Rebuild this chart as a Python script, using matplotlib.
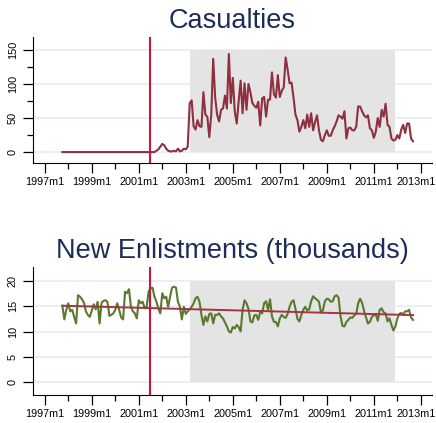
import numpy as np
import matplotlib
matplotlib.use('Agg')
import matplotlib.pyplot as plt
from matplotlib.transforms import ScaledTranslation

plt.rcParams['font.family'] = 'Liberation Sans'

# months counted from 1997m1; data runs 1997m10 .. 2012m9
first_month = 9
casualties = [
    0, 0, 0,                                                  # 1997 Oct-Dec
    0, 0, 0, 0, 0, 0, 0, 0, 0, 0, 0, 0,                      # 1998
    0, 0, 0, 0, 0, 0, 0, 0, 0, 0, 0, 0,                      # 1999
    0, 0, 0, 0, 0, 0, 0, 0, 0, 0, 0, 0,                      # 2000
    0, 0, 0, 0, 0, 0, 0, 0, 0, 2, 4, 8,                      # 2001
    12, 10, 5, 2, 1, 1, 2, 1, 5, 1, 2, 5,                    # 2002
    4, 8, 72, 76, 38, 33, 47, 38, 37, 88, 55, 52,            # 2003
    22, 55, 137, 80, 55, 45, 62, 64, 83, 64, 144, 72,        # 2004
    109, 60, 42, 75, 105, 57, 101, 62, 100, 88, 72, 68,      # 2005
    65, 74, 39, 79, 81, 52, 77, 77, 117, 85, 80, 113,        # 2006
    81, 90, 95, 139, 121, 101, 102, 80, 55, 47, 30, 37,      # 2007
    47, 35, 55, 37, 57, 32, 44, 54, 32, 18, 16, 25,          # 2008
    32, 24, 24, 32, 38, 45, 54, 52, 49, 60, 20, 35,          # 2009
    36, 32, 32, 37, 67, 67, 60, 54, 51, 54, 35, 32,          # 2010
    21, 30, 50, 37, 62, 52, 71, 40, 37, 20, 17, 18,          # 2011
    25, 20, 33, 40, 28, 42, 42, 20, 16,                      # 2012 Jan-Sep
]
enlistments = [
    15.1, 12.4, 14.3,
    15.6, 14.0, 14.3, 12.9, 11.6, 17.2, 16.9, 16.4, 15.7, 14.0, 13.3, 12.9,
    14.1, 15.4, 14.4, 15.9, 11.6, 15.7, 16.1, 16.2, 15.9, 13.1, 13.3, 13.6,
    14.3, 15.6, 14.3, 12.8, 12.4, 17.9, 17.6, 18.4, 14.9, 14.0, 13.6, 12.6,
    16.2, 15.6, 15.9, 14.6, 14.9, 17.9, 18.5, 18.7, 16.9, 15.9, 14.6, 13.6,
    17.6, 16.6, 16.9, 14.9, 16.9, 18.7, 18.9, 18.7, 15.9, 14.9, 12.4, 14.9,
    13.5, 14.0, 14.4, 14.9, 15.6, 16.6, 16.9, 15.9, 13.3, 11.3, 13.0, 12.0,
    13.5, 13.6, 11.6, 13.3, 13.3, 13.6, 13.0, 12.6, 11.8, 11.0, 10.0, 9.8,
    10.9, 10.6, 11.3, 10.9, 10.0, 14.3, 16.2, 15.6, 14.5, 12.0, 11.8, 13.2,
    13.3, 12.3, 13.9, 13.6, 15.6, 16.0, 14.3, 16.4, 13.0, 11.9, 11.9, 11.0,
    12.6, 13.3, 12.9, 12.7, 13.5, 14.9, 15.9, 16.2, 14.5, 12.5, 12.0, 13.3,
    14.3, 14.9, 14.2, 14.4, 16.0, 17.0, 16.6, 16.3, 15.9, 13.8, 14.2, 16.0,
    16.5, 16.4, 15.9, 16.0, 17.0, 17.2, 16.7, 13.0, 11.1, 11.0, 11.9, 12.3,
    12.8, 12.7, 13.2, 13.5, 15.6, 16.5, 15.7, 14.1, 12.8, 11.6, 11.9, 12.9,
    13.2, 13.5, 12.1, 14.3, 14.6, 13.8, 13.6, 12.0, 12.6, 11.3, 10.2, 11.0,
    12.6, 13.5, 13.7, 13.3, 14.0, 14.0, 14.3, 12.8, 12.3,
]

event_month = 53.5          # vertical marker
war_start, war_end = 74, 179  # shaded period (2003m3 .. 2011m12)
tick_years = [1997, 1999, 2001, 2003, 2005, 2007, 2009, 2011, 2013]

months = first_month + np.arange(len(casualties))
tick_pos = [(y - 1997) * 12 for y in tick_years]
tick_lab = ['%dm1' % y for y in tick_years]

navy = '#1c2d57'
grid_col = '#e6eff1'
shade_col = '#e4e4e4'
vline_col = '#d4103c'

fig = plt.figure(figsize=(4.36, 4.23), dpi=100)
ax1 = fig.add_axes([33/436, 1 - 163/423, 399/436, 126/423])
ax2 = fig.add_axes([33/436, 1 - 395/423, 399/436, 128/423])


def style(ax, yticks, yminor, ylim, title):
    ax.set_xlim(-6, 197.7)
    ax.set_ylim(*ylim)
    ax.set_xticks(tick_pos)
    ax.set_xticklabels(tick_lab)
    ax.set_xticks([p + 12 for p in tick_pos[:-1]], minor=True)
    ax.set_yticks(yticks)
    ax.set_yticks(yminor, minor=True)
    ax.set_yticklabels([str(v) for v in yticks], rotation=90, va='center')
    for v in yticks:
        ax.axhline(v, color=grid_col, lw=1.3, zorder=0)
    for s in ['top', 'right']:
        ax.spines[s].set_visible(False)
    ax.tick_params(axis='x', which='major', length=7, width=0.9, labelsize=7.8, pad=3)
    ax.tick_params(axis='x', which='minor', length=4, width=0.9)
    ax.tick_params(axis='y', which='major', length=7, width=0.9, labelsize=7.8, pad=4)
    ax.tick_params(axis='y', which='minor', length=4, width=0.9)
    # keep the last date label inside the figure
    last = ax.get_xticklabels()[-1]
    last.set_transform(last.get_transform() + ScaledTranslation(-5/100, 0, fig.dpi_scale_trans))
    ax.set_title(title, fontsize=19.5, color=navy, pad=6.5)


style(ax1, [0, 50, 100, 150], [25, 75, 125], (-16, 169), 'Casualties')
ax1.fill_between([war_start, war_end], 0, 150, color=shade_col, lw=0, zorder=1)
ax1.axvline(event_month, color=vline_col, lw=1.5, zorder=3)
ax1.plot(months, casualties, color='#8e3040', lw=1.5, zorder=2)

style(ax2, [0, 5, 10, 15, 20], [], (-2.6, 22.8), 'New Enlistments (thousands)')
ax2.fill_between([war_start, war_end], 0, 20, color=shade_col, lw=0, zorder=1)
ax2.axvline(event_month, color=vline_col, lw=1.5, zorder=4)
ax2.plot(months, enlistments, color='#587a2c', lw=1.5, zorder=2)
b, a = np.polyfit(months, enlistments, 1)
ax2.plot(months, a + b * months, color='#a33444', lw=1.4, zorder=3)

fig.savefig('out.png', dpi=100)
